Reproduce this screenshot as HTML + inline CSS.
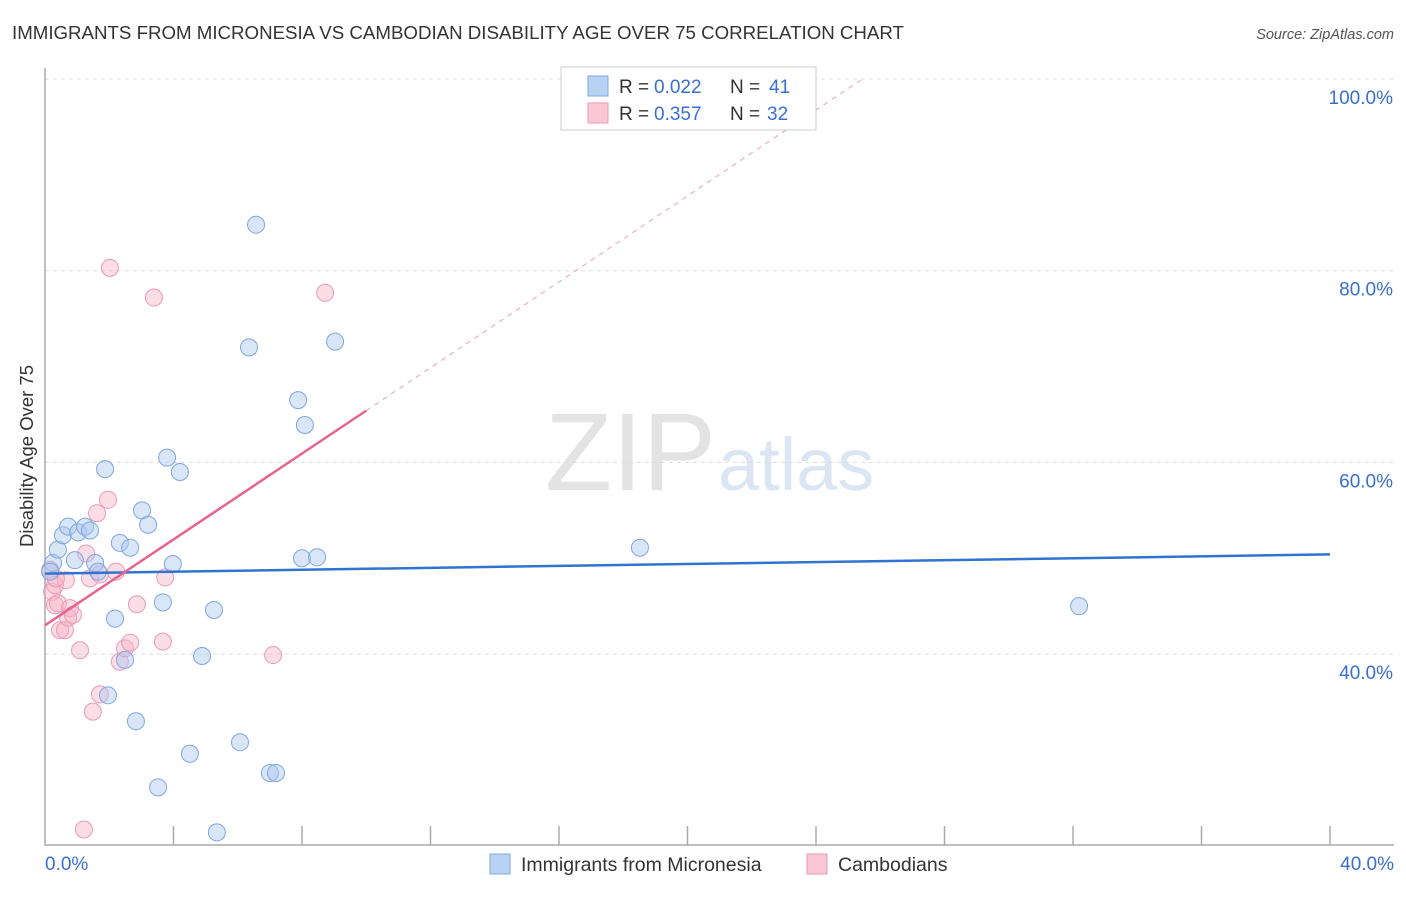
<!DOCTYPE html>
<html><head><meta charset="utf-8"><style>
body{margin:0;background:#fff;font-family:"Liberation Sans",sans-serif;}
svg text{font-family:"Liberation Sans",sans-serif;}
</style></head><body>
<svg id="chart" width="1406" height="892" xmlns="http://www.w3.org/2000/svg">
<text x="12" y="39" font-size="18.7" fill="#333">IMMIGRANTS FROM MICRONESIA VS CAMBODIAN DISABILITY AGE OVER 75 CORRELATION CHART</text>
<text x="1394" y="39" font-size="14.5" fill="#555" text-anchor="end" font-style="italic">Source: ZipAtlas.com</text>
<text x="716" y="490" font-size="110" fill="#e3e3e3" text-anchor="end" font-family="Liberation Serif">ZIP</text>
<text x="718" y="490" font-size="74" fill="#dbe6f4">atlas</text>
<text transform="translate(33,456) rotate(-90)" font-size="18.5" fill="#333" text-anchor="middle">Disability Age Over 75</text>
<g id="grid"></g><g id="axes"></g><g id="marks"></g>
<g>
<rect x="561" y="67" width="255" height="63" fill="#fff" stroke="#ccc"/>
<rect x="588" y="76" width="20" height="20" fill="#b8d2f4" stroke="#7fa6e0"/>
<rect x="588" y="103" width="20" height="20" fill="#f9c6d6" stroke="#eb9ab5"/>
<text x="619" y="93" font-size="19" fill="#333">R =</text>
<text x="654" y="93" font-size="19" fill="#3a6fd0">0.022</text>
<text x="730" y="93" font-size="19" fill="#333">N =</text>
<text x="769" y="93" font-size="19" fill="#3a6fd0">41</text>
<text x="619" y="120" font-size="19" fill="#333">R =</text>
<text x="654" y="120" font-size="19" fill="#3a6fd0">0.357</text>
<text x="730" y="120" font-size="19" fill="#333">N =</text>
<text x="767" y="120" font-size="19" fill="#3a6fd0">32</text>
</g>
<g>
<rect x="490" y="854" width="20" height="20" fill="#b8d2f4" stroke="#7fa6e0"/>
<text x="521" y="871" font-size="19.5" fill="#333">Immigrants from Micronesia</text>
<rect x="807" y="854" width="20" height="20" fill="#f9c6d6" stroke="#eb9ab5"/>
<text x="838" y="871" font-size="19.5" fill="#333">Cambodians</text>
</g>
</svg>
<script>
const blueX=[0.25,0.40,0.56,0.72,1.03,1.25,1.40,0.93,1.56,1.65,1.87,2.18,2.33,2.49,2.65,1.96,2.83,3.02,3.21,3.52,3.67,3.80,3.98,4.20,4.51,4.89,5.26,5.35,6.07,6.35,6.57,7.00,7.19,7.88,8.09,8.00,8.47,9.03,18.52,32.19,0.16];
const blueY=[49.5,50.9,52.4,53.3,52.7,53.3,52.9,49.8,49.5,48.6,59.3,43.7,51.6,39.4,51.1,35.7,33.0,55.0,53.5,26.1,45.4,60.5,49.4,59.0,29.6,39.8,44.6,21.4,30.8,72.0,84.8,27.6,27.6,66.5,63.9,50.0,50.1,72.6,51.1,45.0,48.6];
const pinkX=[0.16,0.22,0.31,0.31,0.40,0.47,0.62,0.72,0.78,0.87,1.09,1.28,1.40,1.49,1.62,1.71,1.71,1.96,2.02,2.21,2.33,2.49,2.65,2.86,3.39,3.67,3.74,7.10,8.72,1.21,0.65,0.34];
const pinkY=[48.8,46.5,47.2,45.1,45.3,42.5,42.5,43.8,44.8,44.1,40.4,50.5,47.9,34.0,54.7,35.8,48.3,56.1,80.3,48.6,39.2,40.6,41.2,45.2,77.2,41.3,48.0,39.9,77.7,21.7,47.7,47.9];
const blueTrend=[48.4,50.4];
const pinkTrend=[43.0,2.24];
const yTicks=[40,60,80,100];
const xTickLabels=["0.0%","40.0%"];
const NS="http://www.w3.org/2000/svg";
const xs=v=>45+v/40*1285;
const ys=v=>79+(100-v)/20*191.7;
function mk(t,a,p){const e=document.createElementNS(NS,t);for(const k in a)e.setAttribute(k,a[k]);p.appendChild(e);return e;}
const grid=document.getElementById('grid'),axes=document.getElementById('axes'),marks=document.getElementById('marks');
yTicks.forEach(t=>{
 const l=mk('line',{x1:45,x2:1394,y1:ys(t),y2:ys(t),stroke:'#ddd','stroke-dasharray':'4,4'},grid);
 
 
 const tx=mk('text',{x:1393,y:ys(t)+25,'font-size':19,fill:'#3a6fd0','text-anchor':'end'},axes);
 tx.textContent=t.toFixed(1)+'%';
 
 
});
const ax=mk('path',{d:'M45 68V845H1394',fill:'none',stroke:'#aaa','stroke-width':1.5},axes);


for(let i=1;i<=10;i++){const t=mk('line',{x1:xs(i*4),x2:xs(i*4),y1:826,y2:845,stroke:'#aaa','stroke-width':1.5},axes);
 
 }
const xl0=mk('text',{x:45,y:870,'font-size':19,fill:'#3a6fd0'},axes);xl0.textContent=xTickLabels[0];


const xl1=mk('text',{x:1394,y:870,'font-size':19,fill:'#3a6fd0','text-anchor':'end'},axes);xl1.textContent=xTickLabels[1];


pinkX.forEach((x,i)=>{const c=mk('circle',{cx:xs(x),cy:ys(pinkY[i]),r:8.5,fill:'rgba(246,180,200,0.45)',stroke:'#eb9ab5','stroke-width':1},marks);
 
 });
blueX.forEach((x,i)=>{const c=mk('circle',{cx:xs(x),cy:ys(blueY[i]),r:8.5,fill:'rgba(170,200,240,0.45)',stroke:'#7fa6e0','stroke-width':1},marks);
 
 });
const bt=mk('line',{x1:xs(0),y1:ys(blueTrend[0]),x2:xs(40),y2:ys(blueTrend[1]),stroke:'#2f74d0','stroke-width':2.5},marks);


const pe=(100-pinkTrend[0])/pinkTrend[1];
const pd=mk('line',{x1:xs(10),y1:ys(pinkTrend[0]+pinkTrend[1]*10),x2:xs(pe),y2:ys(100),stroke:'#e8a0b8','stroke-width':1,'stroke-dasharray':'5,5'},marks);


const ps=mk('line',{x1:xs(0),y1:ys(pinkTrend[0]),x2:xs(10),y2:ys(pinkTrend[0]+pinkTrend[1]*10),stroke:'#e8648f','stroke-width':2.5},marks);


</script>
</body></html>
